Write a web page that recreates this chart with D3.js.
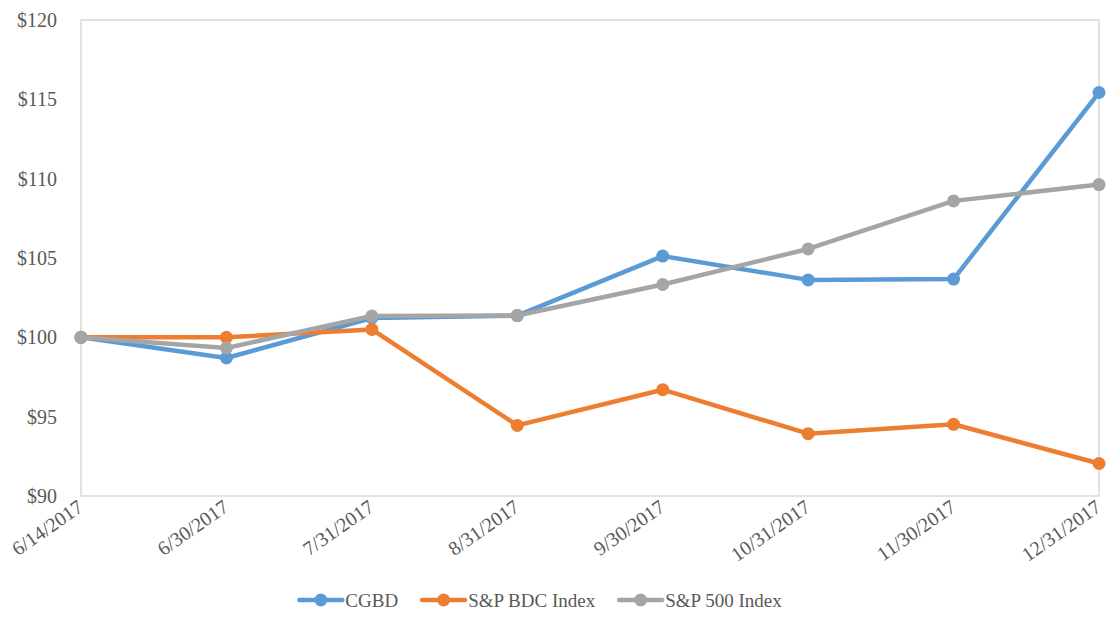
<!DOCTYPE html>
<html>
<head>
<meta charset="utf-8">
<script src="https://cdn.jsdelivr.net/npm/d3@7"></script>
<style>
	body { margin: 0; background: #fff; }
	svg text { font-family: "Times New Roman", "Liberation Serif", "DejaVu Serif", serif; fill: #595959; }
</style>
</head>
<body>
<svg id="chart" width="1118" height="624"></svg>
<script>
(function(){

	// chart values
	const dates = ["6/14/2017", "6/30/2017", "7/31/2017", "8/31/2017", "9/30/2017", "10/31/2017", "11/30/2017", "12/31/2017"];
	const cgbd = [100, 98.7, 101.22, 101.37, 105.12, 103.62, 103.67, 115.43];
	const bdcIndex = [100, 100, 100.5, 94.45, 96.7, 93.93, 94.52, 92.05];
	const sp500 = [100, 99.33, 101.34, 101.38, 103.33, 105.57, 108.6, 109.63];
	const seriesNames = ["CGBD", "S&P BDC Index", "S&P 500 Index"];
	const yTicks = [90, 95, 100, 105, 110, 115, 120];

	const colors = ["#5b9bd5", "#ed7d31", "#a5a5a5"];
	const series = [cgbd, bdcIndex, sp500];
	const serifFont = "'Times New Roman', 'Liberation Serif', 'DejaVu Serif', serif";

	const svg = d3.select("#chart");
	const margin = {left: 81, right: 19, top: 20, bottom: 128};
	const width = 1118 - margin.left - margin.right;
	const height = 624 - margin.top - margin.bottom;

	const x = d3.scalePoint().domain(dates).range([0, width]);
	const y = d3.scaleLinear().domain([90, 120]).range([height, 0]);

	const g = svg.append("g").attr("transform", "translate(" + margin.left + "," + margin.top + ")");

	// plot area border
	g.append("rect")
		.attr("x", 0).attr("y", 0)
		.attr("width", width).attr("height", height)
		.attr("fill", "none")
		.attr("stroke", "#d9d9d9")
		.attr("stroke-width", 1.5);

	// y axis labels
	const yAxis = d3.axisLeft(y).tickValues(yTicks).tickSize(0).tickPadding(24).tickFormat(d => "$" + d);
	const yG = g.append("g").call(yAxis).attr("font-family", serifFont);
	yG.select(".domain").remove();
	yG.selectAll("text").style("font-size", "20px").style("fill", "#595959")
		.style("font-family", serifFont);

	// x axis labels, rotated
	const xAxis = d3.axisBottom(x).tickSize(0);
	const xG = g.append("g").attr("transform", "translate(0," + height + ")").call(xAxis).attr("font-family", serifFont);
	xG.select(".domain").remove();
	xG.selectAll("text")
		.style("font-size", "20px").style("fill", "#595959")
		.style("font-family", serifFont)
		.attr("text-anchor", "end")
		.attr("dy", null)
		.attr("y", 0)
		.attr("transform", "translate(3,14) rotate(-35)");

	const line = d3.line()
		.x((d, i) => x(dates[i]))
		.y(d => y(d));

	series.forEach(function(values, s) {
		g.append("path")
			.datum(values)
			.attr("fill", "none")
			.attr("stroke", colors[s])
			.attr("stroke-width", 4.5)
			.attr("stroke-linejoin", "round")
			.attr("d", line);

		g.selectAll(".pt" + s)
			.data(values)
			.enter().append("circle")
			.attr("class", "pt" + s)
			.attr("cx", (d, i) => x(dates[i]))
			.attr("cy", d => y(d))
			.attr("r", 6.5)
			.attr("fill", colors[s]);
	});

	// legend, centered under the plot
	const legendY = 600;
	const gap = 24;
	const legend = svg.append("g");
	let cursor = 0;
	seriesNames.forEach(function(name, s) {
		const item = legend.append("g").attr("transform", "translate(" + cursor + ",0)");
		item.append("line")
			.attr("x1", 0).attr("x2", 43)
			.attr("y1", 0).attr("y2", 0)
			.attr("stroke", colors[s]).attr("stroke-width", 4.5).attr("stroke-linecap", "round");
		item.append("circle").attr("cx", 21.5).attr("cy", 0).attr("r", 6.5).attr("fill", colors[s]);
		const t = item.append("text")
			.attr("x", 46).attr("y", 7)
			.style("font-size", "19px")
			.style("font-family", serifFont)
			.text(name);
		cursor += 46 + t.node().getComputedTextLength() + gap;
	});
	const legendWidth = cursor - gap;
	legend.attr("transform", "translate(" + ((300 + 781) / 2 - legendWidth / 2) + "," + legendY + ")");

}());
</script>
</body>
</html>
